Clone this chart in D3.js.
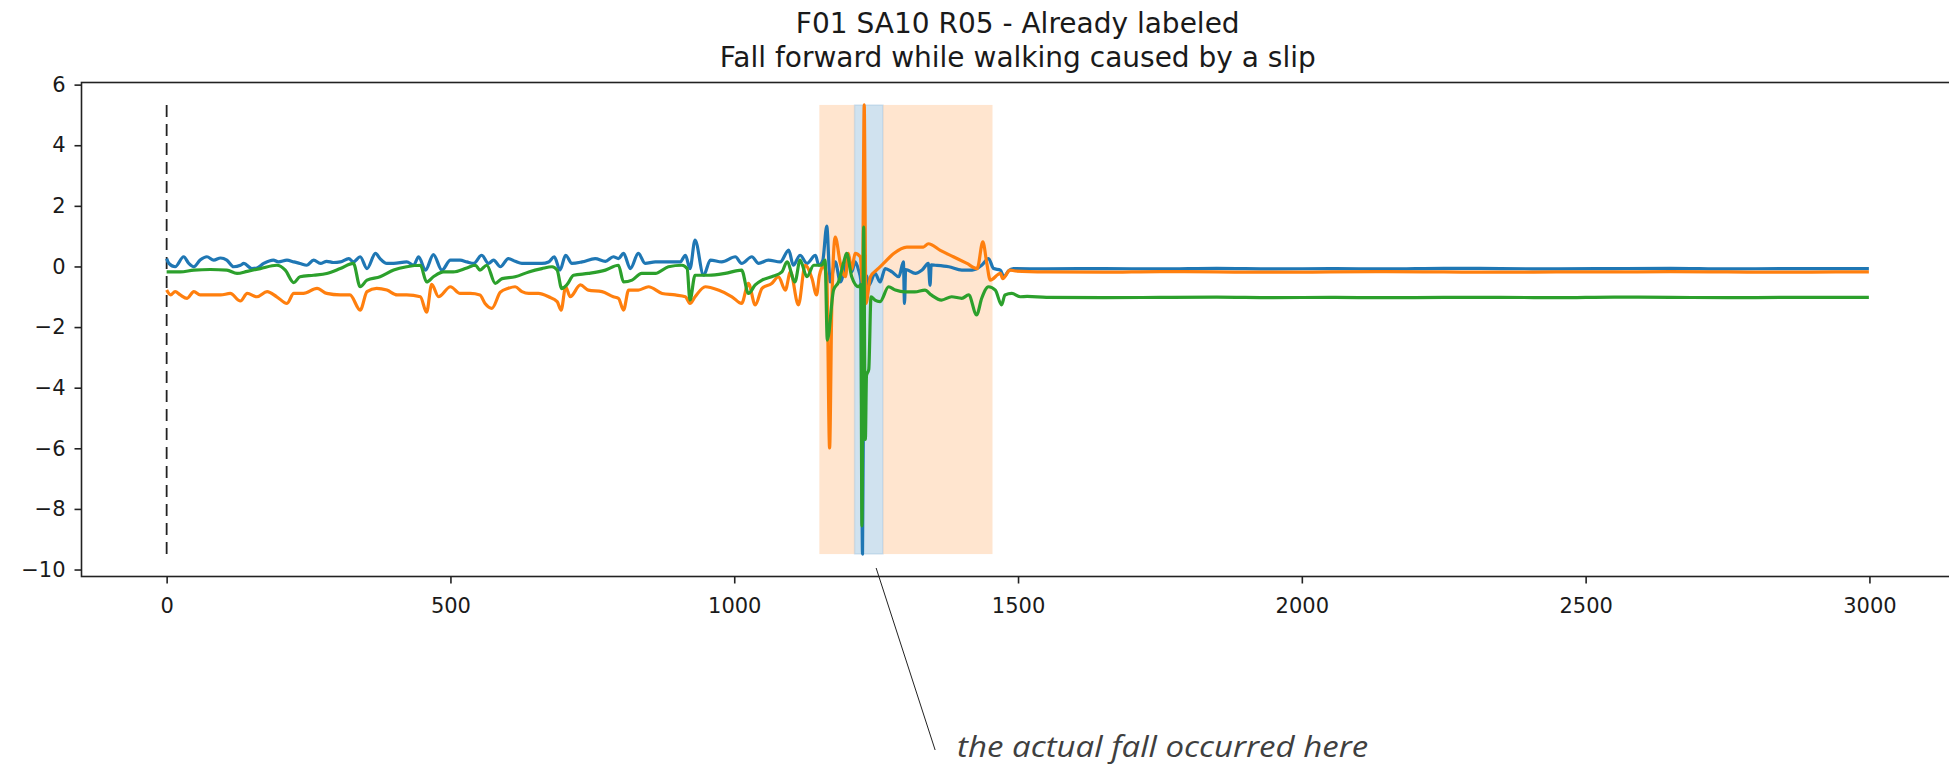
<!DOCTYPE html>
<html>
<head>
<meta charset="utf-8">
<script src="https://cdn.jsdelivr.net/npm/d3@7"></script>
<style>
  html, body { margin: 0; padding: 0; background: #fff; }
  svg { display: block; }
</style>
</head>
<body>
<svg id="chart" width="1949" height="768"></svg>
<script>
// ---------------- data ----------------
const titleLines = ["F01 SA10 R05 - Already labeled", "Fall forward while walking caused by a slip"];
const annotationText = "the actual fall occurred here";
const xTicks = [0, 500, 1000, 1500, 2000, 2500, 3000];
const yTicks = [-10, -8, -6, -4, -2, 0, 2, 4, 6];
const fallWindow = [1150, 1455];   // orange span
const fallMoment = [1212, 1262];   // blue span
const annotationAnchor = [1250, -9.95];

const blueT = [0,4,15,30,39,48,59,71,83,95,106,118,130,136,150,159,171,188,197,212,224,235,247,259,271,282,294,306,321,329,341,353,368,376,388,400,423,435,444,456,470,485,500,517,529,541,555,567,576,588,602,614,626,638,661,673,683,693,703,714,732,755,773,787,796,805,817,831,843,861,884,905,914,922,931,946,958,978,1002,1013,1031,1043,1060,1081,1096,1104,1116,1128,1143,1149,1156,1163,1169,1178,1187,1196,1201,1207,1213,1219,1223,1226,1229,1233,1237,1248,1257,1266,1278,1290,1298,1300,1302,1319,1331,1342,1345,1347,1354,1378,1401,1419,1436,1448,1457,1469,1475,1483,1492,1550,1650,1750,1850,1950,2050,2150,2250,2350,2450,2550,2650,2750,2850,2950,2999];
const blueV = [0.26,0.10,-0.01,0.32,0.10,-0.01,0.21,0.32,0.21,0.28,0.21,-0.01,0.04,0.10,-0.07,-0.05,0.10,0.21,0.15,0.21,0.15,0.10,0.04,0.21,0.10,0.17,0.13,0.15,0.26,0.15,0.32,-0.07,0.43,0.26,0.10,0.10,0.15,0.04,0.32,-0.12,0.39,-0.12,0.21,0.21,0.15,0.10,0.37,0.10,0.21,-0.01,0.26,0.17,0.10,0.10,0.10,0.15,0.32,-0.12,0.37,0.10,0.15,0.26,0.17,0.32,0.26,0.43,-0.07,0.43,0.10,0.15,0.15,0.15,0.37,-0.07,0.87,-0.29,0.21,0.15,0.32,0.10,0.32,0.10,0.21,0.15,0.54,0.04,0.37,0.10,0.37,0.04,0.20,1.33,-0.51,0.15,-0.51,0.04,0.26,-0.18,0.15,-0.12,-0.45,-9.49,-0.90,-0.30,-0.62,-0.23,-0.51,-0.07,-0.18,-0.34,0.15,-1.22,-0.10,-0.23,-0.12,0.10,-0.62,0.05,0.04,-0.01,-0.12,-0.12,0.04,0.26,-0.07,-0.12,-0.34,-0.15,-0.07,-0.08,-0.07,-0.08,-0.06,-0.08,-0.07,-0.08,-0.06,-0.07,-0.08,-0.07,-0.06,-0.08,-0.07,-0.07,-0.07];

const orangeT = [0,7,15,24,36,48,59,77,95,112,130,142,159,177,194,212,224,241,265,282,306,323,341,353,370,388,406,423,447,458,467,479,500,517,535,552,561,573,588,602,614,626,638,655,673,688,695,703,711,729,743,767,787,796,805,814,831,849,873,896,914,922,931,949,972,996,1013,1025,1037,1049,1066,1078,1090,1099,1113,1125,1137,1145,1150,1157,1163,1168,1172,1178,1187,1196,1201,1207,1213,1222,1226,1229,1232,1240,1252,1263,1281,1304,1333,1342,1363,1386,1410,1428,1438,1445,1451,1469,1473,1486,1495,1550,1650,1750,1850,1950,2050,2150,2250,2350,2450,2550,2650,2750,2850,2950,2999];
const orangeV = [-0.78,-0.94,-0.83,-0.94,-1.05,-0.83,-0.94,-0.94,-0.94,-0.89,-1.14,-0.89,-1.00,-0.83,-1.00,-1.22,-0.89,-0.89,-0.72,-0.89,-0.94,-0.94,-1.44,-0.83,-0.72,-0.78,-0.94,-0.94,-1.00,-1.51,-0.59,-1.00,-0.67,-0.89,-0.89,-0.94,-1.22,-1.38,-0.85,-0.72,-0.67,-0.83,-0.89,-0.89,-1.00,-1.16,-1.44,-0.67,-1.00,-0.61,-0.78,-0.83,-1.00,-1.05,-1.44,-0.78,-0.78,-0.67,-0.89,-0.94,-1.00,-1.22,-1.00,-0.67,-0.78,-1.00,-1.22,-0.56,-1.27,-0.72,-0.56,-0.34,-0.78,-0.18,-1.27,0.04,-0.40,-0.94,-0.30,0.00,-0.30,-5.99,-1.20,0.97,0.10,-0.34,0.43,-0.10,0.43,0.32,-0.56,5.33,-1.22,-0.34,-0.10,0.10,0.43,0.64,0.64,0.75,0.53,0.32,0.10,-0.07,0.81,0.10,-0.45,-0.23,-0.40,-0.12,-0.15,-0.18,-0.19,-0.17,-0.18,-0.19,-0.18,-0.17,-0.18,-0.19,-0.18,-0.18,-0.17,-0.18,-0.19,-0.18,-0.18];

const greenT = [0,24,48,77,106,124,142,165,194,209,224,235,259,282,306,329,341,353,376,400,423,447,458,470,488,505,529,544,552,564,579,591,614,638,661,679,688,696,705,717,743,773,796,805,820,837,861,884,908,917,922,931,955,984,1013,1025,1037,1049,1066,1084,1093,1107,1116,1128,1140,1154,1160,1164,1175,1184,1193,1198,1207,1219,1223,1225,1228,1231,1233,1237,1241,1248,1257,1272,1284,1301,1318,1336,1347,1365,1383,1401,1413,1427,1436,1448,1460,1471,1477,1489,1504,1516,1550,1650,1750,1850,1950,2050,2150,2250,2350,2450,2550,2650,2750,2850,2950,2999];
const greenV = [-0.18,-0.18,-0.12,-0.10,-0.12,-0.23,-0.16,-0.07,0.04,-0.12,-0.53,-0.34,-0.29,-0.23,-0.07,0.10,-0.67,-0.45,-0.34,-0.12,-0.01,0.04,-0.51,-0.34,-0.18,-0.18,-0.05,0.04,-0.12,0.04,-0.56,-0.40,-0.34,-0.18,-0.07,-0.01,-0.12,-0.73,-0.61,-0.29,-0.23,-0.12,0.04,-0.51,-0.45,-0.23,-0.23,-0.01,0.04,-0.07,-1.11,-0.29,-0.29,-0.23,-0.12,-0.89,-0.61,-0.45,-0.34,-0.18,0.15,-0.51,0.21,-0.34,0.04,0.04,0.21,-2.43,-0.78,-0.50,0.15,0.43,-0.34,-0.67,-0.60,-8.56,1.30,-5.71,-3.60,-3.40,-1.00,-1.11,-1.16,-0.67,-0.78,-0.84,-0.84,-0.78,-0.94,-1.11,-1.00,-1.05,-0.94,-1.60,-1.05,-0.67,-0.78,-1.27,-0.94,-0.89,-1.00,-0.99,-1.02,-1.03,-1.02,-1.01,-1.03,-1.02,-1.03,-1.02,-1.02,-1.03,-1.01,-1.02,-1.03,-1.02,-1.02,-1.02];

const seriesColors = ["#1f77b4", "#ff7f0e", "#2ca02c"];

// ---------------- drawing ----------------
const svg = d3.select("#chart");
const x = d3.scaleLinear().domain([-150, 3149]).range([81.5, 1954]);
const y = d3.scaleLinear().domain([-10.23, 6.07]).range([576.5, 82.5]);

const series = [
  {t: blueT, v: blueV, color: seriesColors[0]},
  {t: orangeT, v: orangeV, color: seriesColors[1]},
  {t: greenT, v: greenV, color: seriesColors[2]}
];
const allV = blueV.concat(orangeV, greenV);
const vMin = d3.min(allV), vMax = d3.max(allV);

// spans
const spanG = svg.append("g");
const orangeParts = [[fallWindow[0], fallMoment[0]], [fallMoment[1], fallWindow[1]]];
spanG.selectAll("rect.o").data(orangeParts).join("rect")
  .attr("x", d => x(d[0])).attr("width", d => x(d[1]) - x(d[0]))
  .attr("y", y(vMax)).attr("height", y(vMin) - y(vMax))
  .attr("fill", "#ff7f0e").attr("fill-opacity", 0.2);
spanG.append("rect")
  .attr("x", x(fallMoment[0])).attr("width", x(fallMoment[1]) - x(fallMoment[0]))
  .attr("y", y(vMax)).attr("height", y(vMin) - y(vMax))
  .attr("fill", "#1f77b4").attr("fill-opacity", 0.21)
  .attr("stroke", "#1f77b4").attr("stroke-opacity", 0.12).attr("stroke-width", 1.5);

// dashed vertical at t=0
svg.append("line")
  .attr("x1", x(0)).attr("x2", x(0))
  .attr("y1", y(vMax)).attr("y2", y(vMin))
  .attr("stroke", "#222").attr("stroke-width", 1.8)
  .attr("stroke-dasharray", "12,7");

// lines
const line = d3.line().x(d => x(d[0])).y(d => y(d[1])).curve(d3.curveMonotoneX);
svg.append("g").selectAll("path").data(series).join("path")
  .attr("d", s => line(s.t.map((t, i) => [t, s.v[i]])))
  .attr("fill", "none").attr("stroke", s => s.color)
  .attr("stroke-width", 3.2).attr("stroke-linejoin", "round");

// axes
const fmt = d3.format("d");
const gx = svg.append("g").attr("transform", `translate(0,${576.5})`)
  .call(d3.axisBottom(x).tickValues(xTicks).tickFormat(fmt).tickSize(7).tickPadding(15));
const gy = svg.append("g").attr("transform", `translate(${81.5},0)`)
  .call(d3.axisLeft(y).tickValues(yTicks).tickFormat(fmt).tickSize(7).tickPadding(9));
[gx, gy].forEach(g => {
  g.select(".domain").remove();
  g.selectAll("line").attr("stroke", "#222").attr("stroke-width", 1.6);
  g.selectAll("text").attr("fill", "#1a1a1a")
    .style("font-family", "DejaVu Sans").style("font-size", "21px");
});

// frame (spines)
svg.append("rect")
  .attr("x", 81.5).attr("y", 82.5).attr("width", 1954 - 81.5).attr("height", 576.5 - 82.5)
  .attr("fill", "none").attr("stroke", "#222").attr("stroke-width", 1.6);

// title
const cx = (81.5 + 1954) / 2;
svg.append("g").selectAll("text").data(titleLines).join("text")
  .attr("x", cx).attr("y", (d, i) => 33 + i * 34)
  .attr("text-anchor", "middle")
  .style("font-family", "DejaVu Sans").style("font-size", "28px")
  .attr("fill", "#1a1a1a")
  .text(d => d);

// annotation
const ax = x(annotationAnchor[0]), ay = y(annotationAnchor[1]);
svg.append("line")
  .attr("x1", ax).attr("y1", ay).attr("x2", ax + 59).attr("y2", ay + 182)
  .attr("stroke", "#222").attr("stroke-width", 1);
svg.append("text")
  .attr("x", ax + 81).attr("y", ay + 189)
  .attr("textLength", 411).attr("lengthAdjust", "spacingAndGlyphs")
  .style("font-family", "Open Sans").style("font-style", "italic").style("font-size", "30px")
  .attr("fill", "#3f3f3f")
  .text(annotationText);
</script>
</body>
</html>
